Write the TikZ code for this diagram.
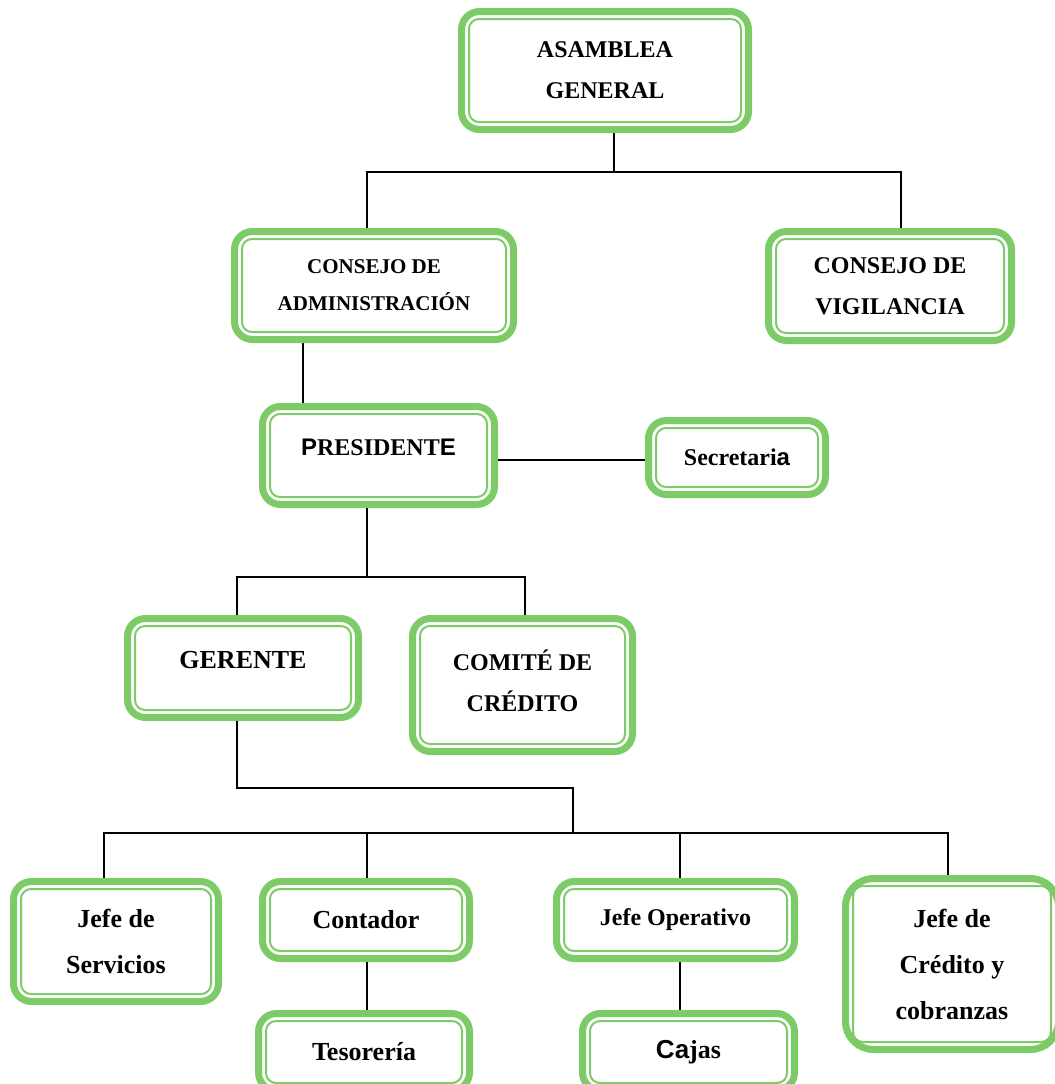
\documentclass[tikz,border=0pt]{standalone}
\usepackage{fontspec}
\setmainfont{Liberation Serif}
\newfontfamily\sansbit{Liberation Sans}
\usepackage{tikz}
\definecolor{boxgreen}{RGB}{125,203,103}

\begin{document}
\begin{tikzpicture}[x=0.5pt,y=-0.5pt]
  \tikzstyle{box}=[rectangle, draw=boxgreen, line width=3.5pt, rounded corners=9pt,
fill=white, inner sep=0pt, align=center, text=black,
path picture={\draw[boxgreen, line width=1pt, rounded corners=5pt]
([shift={(3.75pt,3.75pt)}]path picture bounding box.south west) rectangle
([shift={(-3.75pt,-3.75pt)}]path picture bounding box.north east);}]
  \tikzstyle{small}=[font=\fontsize{10.5}{18.5}\selectfont\bfseries]
  \tikzstyle{mid}=[font=\fontsize{12}{20.5}\selectfont\bfseries]
  \tikzstyle{big}=[font=\fontsize{13}{23}\selectfont\bfseries]
  \tikzstyle{link}=[draw=black, line width=0.75pt]
  \useasboundingbox (0,0) rectangle (1055,1084);

  \node[box, mid, minimum width=143.5pt, minimum height=59pt] (O_1) at (605,70.5) {ASAMBLEA\\GENERAL};
  \node[box, small, minimum width=139.5pt, minimum height=54pt] (O_2) at (374,285.5) {CONSEJO DE\\ADMINISTRACIÓN};
  \node[box, mid, minimum width=121.5pt, minimum height=54.5pt] (O_3) at (890,286) {CONSEJO DE\\VIGILANCIA};
  \node[box, mid, minimum width=116pt, minimum height=49pt, text depth=8pt] (O_4) at (378.5,455.5) {{\sansbit P}RESIDENT{\sansbit E}};
  \node[box, mid, minimum width=88.5pt, minimum height=37pt] (O_5) at (737,457.5) {Secretari{\sansbit a}};
  \node[box, big, minimum width=115.5pt, minimum height=49.5pt, text depth=8pt] (O_6) at (243,668) {GERENTE};
  \node[box, mid, minimum width=110pt, minimum height=66.5pt, text depth=4pt] (O_7) at (522.5,685) {COMITÉ DE\\CRÉDITO};
  \node[box, big, minimum width=102.5pt, minimum height=60pt] (O_8) at (116,941.5) {Jefe de\\Servicios};
  \node[box, big, minimum width=103.5pt, minimum height=38.5pt] (O_9) at (366,920) {Contador};
  \node[box, big, minimum width=105.5pt, minimum height=38.5pt] (O_10) at (364,1052) {Tesorería};
  \node[box, mid, minimum width=119pt, minimum height=38.5pt] (O_11) at (675.5,920) {Jefe Operativo};
  \node[box, big, minimum width=106pt, minimum height=38.5pt] (O_12) at (688.5,1052) {{\sansbit Ca}jas};
  \node[box, big, minimum width=106.5pt, minimum height=85.5pt, rounded corners=14pt] (O_13) at (952,964) {Jefe de\\Crédito y\\cobranzas};

  \coordinate (J_1) at (614,172);
  \coordinate (J_2) at (367,172);
  \coordinate (J_3) at (901,172);
  \coordinate (J_4) at (303,375);
  \coordinate (J_5) at (570,460);
  \coordinate (J_6) at (367,577);
  \coordinate (J_7) at (237,577);
  \coordinate (J_8) at (525,577);
  \coordinate (J_9) at (237,788);
  \coordinate (J_10) at (573,788);
  \coordinate (J_11) at (573,833);
  \coordinate (J_12) at (104,833);
  \coordinate (J_13) at (367,833);
  \coordinate (J_14) at (680,833);
  \coordinate (J_15) at (948,833);

  \draw[link] (O_1.south -| J_1) -- (J_1);
  \draw[link] (J_2 |- O_2.north) -- (J_2) -- (J_3) -- (J_3 |- O_3.north);
  \draw[link] (J_4 |- O_2.south) -- (J_4 |- O_4.north);
  \draw[link] (J_5 -| O_4.east) -- (J_5 -| O_5.west);
  \draw[link] (O_4.south -| J_6) -- (J_6);
  \draw[link] (J_7 |- O_6.north) -- (J_7) -- (J_8) -- (J_8 |- O_7.north);
  \draw[link] (O_6.south -| J_9) -- (J_9) -- (J_10) -- (J_11);
  \draw[link] (J_12 |- O_8.north) -- (J_12) -- (J_15) -- (J_15 |- O_13.north);
  \draw[link] (J_13) -- (J_13 |- O_9.north);
  \draw[link] (J_14) -- (J_14 |- O_11.north);
  \draw[link] (O_9.south -| J_13) -- (O_10.north -| J_13);
  \draw[link] (O_11.south -| J_14) -- (O_12.north -| J_14);
\end{tikzpicture}
\end{document}
